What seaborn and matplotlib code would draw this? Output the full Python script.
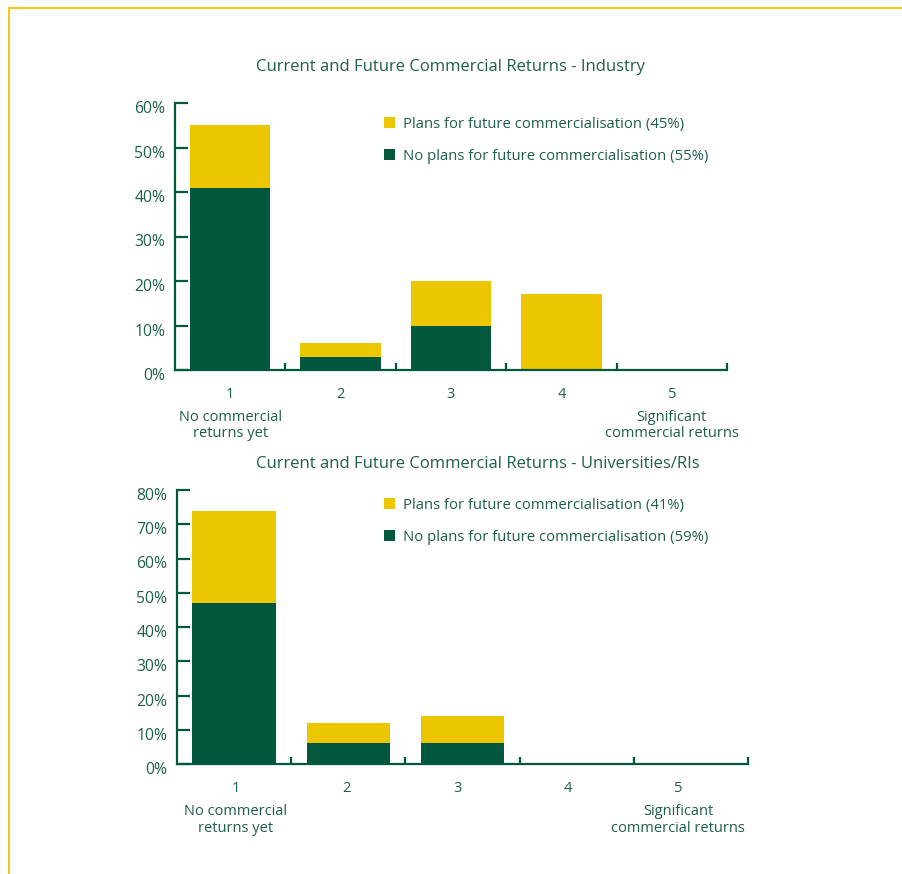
import matplotlib
matplotlib.use("Agg")
import matplotlib.pyplot as plt
from matplotlib.lines import Line2D
from matplotlib.patches import Patch
from matplotlib.transforms import ScaledTranslation
import seaborn as sns

# Score on a 1-5 scale (1 = no commercial returns yet, 5 = significant returns)
scores = ["1", "2", "3", "4", "5"]

# Industry respondents, % of total
industry_no_plans = [41, 3, 10, 0, 0]
industry_plans = [14, 3, 10, 17, 0]

# Universities / research institutes, % of total
uni_no_plans = [47, 6, 6, 0, 0]
uni_plans = [27, 6, 8, 0, 0]

industry_ticks = [0, 10, 20, 30, 40, 50, 60]
uni_ticks = [0, 10, 20, 30, 40, 50, 60, 70, 80]

GREEN = "#02583f"
YELLOW = "#ecc700"
TEXT = "#1e5f47"
BORDER = "#f5c518"

sns.set_theme(style="white")
plt.rcParams["font.family"] = ["Open Sans", "DejaVu Sans"]

fig = plt.figure(figsize=(9.03, 8.74), dpi=100)
W, H = 903, 874


def px_axes(left, right, bottom, top):
    return fig.add_axes([left / W, 1 - bottom / H, (right - left) / W, (bottom - top) / H])


def draw_panel(ax, no_plans, plans, ticks, title, title_y, plans_pct, none_pct,
               leg_xy, label_pos, sub_offset):
    totals = [a + b for a, b in zip(no_plans, plans)]
    sns.barplot(x=scores, y=totals, color=YELLOW, saturation=1, width=0.73, ax=ax, linewidth=0)
    sns.barplot(x=scores, y=no_plans, color=GREEN, saturation=1, width=0.73, ax=ax, linewidth=0)
    ax.set_xlim(-0.5, 4.5)
    ax.set_ylim(0, ticks[-1])
    ax.set_yticks(ticks)
    ax.set_yticklabels([f"{t}%" for t in ticks])
    ax.set_xticks(label_pos)
    ax.set_xticklabels(scores)
    ax.set_xlabel("")
    ax.set_ylabel("")
    for s in ["top", "right"]:
        ax.spines[s].set_visible(False)
    for s in ["left", "bottom"]:
        ax.spines[s].set_color(GREEN)
        ax.spines[s].set_linewidth(1.6)
    ax.tick_params(axis="y", direction="in", length=9.5, width=1.6, color=GREEN,
                   labelsize=11.3, labelcolor=TEXT, pad=7, left=True)
    shift = ScaledTranslation(0, -4 / 100, fig.dpi_scale_trans)
    for lab in ax.get_yticklabels():
        lab.set_transform(lab.get_transform() + shift)
    ax.tick_params(axis="x", which="major", length=0, labelsize=10.5, labelcolor=TEXT, pad=12)
    ax.set_xticks([0.5, 1.5, 2.5, 3.5, 4.5], minor=True)
    ax.tick_params(axis="x", which="minor", direction="in", length=5, width=1.6,
                   color=GREEN, bottom=True)
    fig.text(256 / W, 1 - title_y / H, title, ha="left", va="center",
             fontsize=12, color=TEXT)
    for xpos, label in [(label_pos[0], "No commercial\nreturns yet"),
                        (label_pos[-1], "Significant\ncommercial returns")]:
        ax.annotate(label, xy=(xpos, 0), xycoords=("data", "axes fraction"),
                    xytext=(0, sub_offset), textcoords="offset points",
                    ha="center", va="top", fontsize=10.5, color=TEXT, linespacing=1.15)
    handles = [Patch(facecolor=YELLOW, edgecolor="none"), Patch(facecolor=GREEN, edgecolor="none")]
    labels = [f"Plans for future commercialisation ({plans_pct}%)",
              f"No plans for future commercialisation ({none_pct}%)"]
    fig.legend(handles, labels, loc="upper left",
               bbox_to_anchor=(leg_xy[0] / W, 1 - leg_xy[1] / H),
               bbox_transform=fig.transFigure, frameon=False,
               handlelength=0.75, handleheight=0.75, handletextpad=0.55,
               labelspacing=1.15, borderpad=0, borderaxespad=0,
               fontsize=10.7, labelcolor=TEXT)


ax_top = px_axes(175, 727, 370, 103)
draw_panel(ax_top, industry_no_plans, industry_plans, industry_ticks,
           "Current and Future Commercial Returns - Industry", 67, 45, 55, (384, 117),
           [0, 1, 2, 3, 4], -28.5)

ax_bot = px_axes(177, 748, 764, 490)
draw_panel(ax_bot, uni_no_plans, uni_plans, uni_ticks,
           "Current and Future Commercial Returns - Universities/RIs", 464, 41, 59, (384, 498),
           [0.017, 0.985, 1.953, 2.921, 3.89], -29)

# Page frame lines along the top and left edges
fig.add_artist(Line2D([9.5 / W, 1], [1 - 7.5 / H, 1 - 7.5 / H], color=BORDER, lw=1.4,
                      transform=fig.transFigure))
fig.add_artist(Line2D([9.5 / W, 9.5 / W], [1 - 7.5 / H, 0], color=BORDER, lw=1.4,
                      transform=fig.transFigure))

fig.savefig("out.png", dpi=100, facecolor="white")
